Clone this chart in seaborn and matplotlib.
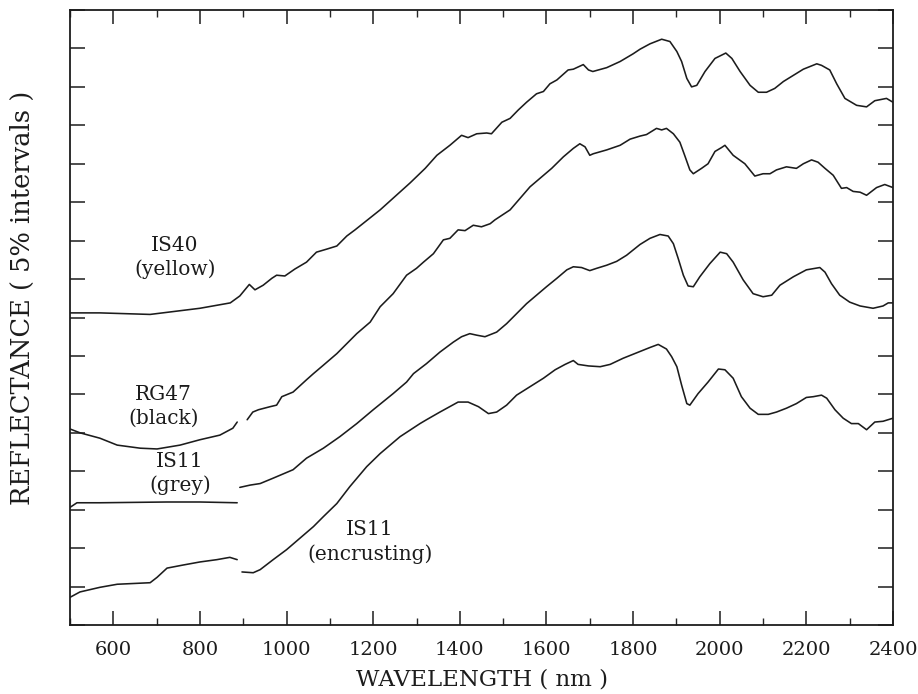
import numpy as np
import pandas as pd
import matplotlib
matplotlib.use("Agg")
import matplotlib.pyplot as plt
import seaborn as sns

# ---- data (wavelength nm, reflectance %, curves offset for display) ----
is40_wl = [500, 569, 685, 800, 870, 892, 914, 927, 946, 966, 977, 996, 1019, 1046, 1069, 1093,
           1116, 1139, 1158, 1216, 1285, 1320, 1347, 1377, 1404, 1419, 1439, 1462, 1473, 1497,
           1516, 1535, 1554, 1577, 1593, 1608, 1624, 1650, 1662, 1685, 1697, 1707, 1739, 1770,
           1800, 1816, 1839, 1866, 1885, 1901, 1912, 1924, 1935, 1947, 1966, 1989, 2014, 2028,
           2047, 2070, 2089, 2108, 2127, 2147, 2170, 2193, 2224, 2235, 2254, 2270, 2289, 2316,
           2339, 2358, 2385, 2400]
is40_r = [40.6, 40.6, 40.4, 41.2, 41.9, 42.8, 44.3, 43.6, 44.2, 45.1, 45.5, 45.4, 46.3, 47.2,
          48.5, 48.9, 49.3, 50.6, 51.4, 54.0, 57.5, 59.4, 61.1, 62.4, 63.7, 63.4, 63.9, 64.0,
          63.9, 65.4, 65.9, 67.0, 68.0, 69.1, 69.4, 70.4, 70.9, 72.2, 72.3, 72.9, 72.2, 72.0,
          72.5, 73.3, 74.3, 74.9, 75.6, 76.2, 75.9, 74.6, 73.3, 71.1, 70.0, 70.2, 72.0, 73.7,
          74.4, 73.7, 72.0, 70.2, 69.3, 69.3, 69.8, 70.7, 71.5, 72.3, 73.0, 72.8, 72.2, 70.4,
          68.5, 67.6, 67.4, 68.2, 68.5, 68.0]

rg47_wl_a = [500, 523, 569, 609, 662, 701, 754, 800, 846, 876, 886]
rg47_r_a = [25.5, 25.0, 24.3, 23.4, 23.0, 22.9, 23.4, 24.1, 24.7, 25.6, 26.4]
rg47_wl_b = [909, 922, 935, 962, 977, 989, 1015, 1046, 1062, 1085, 1116, 1139, 1162, 1193,
             1216, 1246, 1277, 1300, 1316, 1339, 1362, 1377, 1396, 1412, 1431, 1450, 1470, 1481,
             1516, 1562, 1612, 1639, 1662, 1677, 1689, 1700, 1708, 1739, 1770, 1793, 1816, 1831,
             1854, 1866, 1877, 1893, 1908, 1919, 1931, 1939, 1958, 1973, 1989, 2004, 2012, 2031,
             2058, 2081, 2100, 2116, 2131, 2154, 2177, 2193, 2212, 2227, 2243, 2262, 2281, 2293,
             2308, 2324, 2339, 2362, 2381, 2400]
rg47_r_b = [26.7, 27.7, 28.0, 28.4, 28.6, 29.7, 30.3, 31.9, 32.7, 33.8, 35.3, 36.6, 37.9, 39.4,
            41.4, 43.1, 45.5, 46.4, 47.2, 48.3, 50.1, 50.3, 51.4, 51.3, 52.0, 51.8, 52.2, 52.7,
            54.0, 57.0, 59.4, 60.9, 62.0, 62.6, 62.2, 61.1, 61.3, 61.8, 62.4, 63.2, 63.6, 63.8,
            64.6, 64.4, 64.6, 63.9, 62.8, 61.1, 59.2, 58.7, 59.4, 60.0, 61.6, 62.1, 62.4, 61.1,
            60.0, 58.4, 58.7, 58.7, 59.2, 59.6, 59.4, 60.0, 60.5, 60.2, 59.4, 58.5, 56.8, 56.9,
            56.4, 56.3, 55.9, 56.9, 57.3, 56.9]

grey_wl_a = [500, 516, 569, 724, 800, 886]
grey_r_a = [15.3, 15.9, 15.9, 16.0, 16.0, 15.9]
grey_wl_b = [892, 916, 939, 969, 1015, 1046, 1085, 1123, 1162, 1200, 1246, 1277, 1293, 1323,
             1354, 1385, 1404, 1423, 1439, 1458, 1485, 1508, 1531, 1554, 1577, 1600, 1624, 1647,
             1662, 1681, 1700, 1716, 1739, 1762, 1785, 1816, 1839, 1862, 1881, 1893, 1904, 1916,
             1927, 1939, 1954, 1977, 2001, 2016, 2031, 2054, 2077, 2100, 2120, 2139, 2170, 2200,
             2231, 2243, 2258, 2277, 2300, 2324, 2354, 2377, 2389, 2400]
grey_r_b = [17.9, 18.2, 18.4, 19.1, 20.2, 21.7, 23.0, 24.5, 26.2, 28.0, 30.1, 31.6, 32.7, 34.0,
            35.5, 36.8, 37.5, 37.9, 37.7, 37.5, 38.1, 39.2, 40.5, 41.8, 42.9, 44.0, 45.1, 46.2,
            46.6, 46.5, 46.1, 46.4, 46.8, 47.3, 48.1, 49.5, 50.3, 50.8, 50.6, 49.6, 47.7, 45.5,
            44.1, 44.0, 45.3, 47.0, 48.5, 48.3, 47.2, 44.9, 43.1, 42.7, 42.9, 44.2, 45.3, 46.2,
            46.5, 45.9, 44.4, 42.9, 42.0, 41.5, 41.2, 41.5, 41.9, 41.9]

enc_wl_a = [500, 523, 569, 609, 685, 701, 724, 761, 800, 839, 869, 886]
enc_r_a = [3.6, 4.3, 4.9, 5.3, 5.5, 6.2, 7.4, 7.8, 8.2, 8.5, 8.8, 8.5]
enc_wl_b = [897, 923, 939, 969, 1000, 1031, 1062, 1085, 1116, 1146, 1185, 1216, 1262, 1308,
            1323, 1354, 1396, 1419, 1443, 1466, 1485, 1508, 1531, 1562, 1593, 1620, 1643, 1662,
            1673, 1697, 1724, 1747, 1777, 1808, 1839, 1858, 1877, 1889, 1901, 1912, 1924, 1931,
            1950, 1973, 1997, 2012, 2031, 2050, 2070, 2089, 2112, 2131, 2154, 2177, 2200, 2216,
            2235, 2247, 2266, 2285, 2304, 2320, 2339, 2358, 2377, 2400]
enc_r_b = [6.9, 6.8, 7.2, 8.5, 9.8, 11.3, 12.8, 14.1, 15.8, 18.0, 20.6, 22.3, 24.5, 26.2,
           26.7, 27.7, 29.0, 29.0, 28.4, 27.5, 27.7, 28.6, 29.9, 31.0, 32.1, 33.2, 33.9, 34.4,
           33.9, 33.7, 33.6, 33.9, 34.7, 35.4, 36.1, 36.5, 35.9, 34.9, 33.6, 31.2, 28.8, 28.6,
           30.1, 31.6, 33.3, 33.2, 32.1, 29.7, 28.2, 27.4, 27.4, 27.7, 28.2, 28.8, 29.6, 29.7,
           29.9, 29.5, 28.0, 26.9, 26.2, 26.2, 25.4, 26.4, 26.5, 26.9]

labels = ["IS40\n(yellow)", "RG47\n(black)", "IS11\n(grey)", "IS11\n(encrusting)"]
label_wl = [742, 715, 754, 1193]
label_r = [47.8, 28.4, 19.7, 10.8]

x_ticks = [600, 800, 1000, 1200, 1400, 1600, 1800, 2000, 2200, 2400]

segments = [
    ("IS40", 0, is40_wl, is40_r),
    ("RG47", 1, rg47_wl_a, rg47_r_a), ("RG47", 2, rg47_wl_b, rg47_r_b),
    ("grey", 3, grey_wl_a, grey_r_a), ("grey", 4, grey_wl_b, grey_r_b),
    ("enc", 5, enc_wl_a, enc_r_a), ("enc", 6, enc_wl_b, enc_r_b),
]
rows = []
for name, seg, wl, r in segments:
    assert len(wl) == len(r), (name, seg, len(wl), len(r))
    for w, v in zip(wl, r):
        rows.append({"sample": name, "segment": seg, "wavelength": w, "reflectance": v})
df = pd.DataFrame(rows)

sns.set_theme(style="ticks")
plt.rcParams["font.family"] = ["DejaVu Serif"]

ink = "#1c1c1c"
fig = plt.figure(figsize=(9.18, 6.94), dpi=100)
ax = fig.add_axes([70 / 918, 69 / 694, 823 / 918, 615 / 694])

sns.lineplot(data=df, x="wavelength", y="reflectance", units="segment",
             estimator=None, color=ink, lw=1.15, sort=False, ax=ax, legend=False)

for t, w, r in zip(labels, label_wl, label_r):
    ax.text(w, r, t, ha="center", va="center", fontsize=14.5, color=ink,
            linespacing=1.3, multialignment="center")

ax.set_xlim(500, 2400)
ax.set_ylim(0, 80)
ax.set_xticks(x_ticks)
ax.set_xticks(np.arange(500, 2401, 100), minor=True)
ax.set_yticks(np.arange(0, 81, 5))
ax.set_yticklabels([])
ax.tick_params(axis="x", which="major", direction="in", length=10, width=1.1,
               top=True, bottom=True, labelsize=14, colors=ink, pad=11.5)
ax.tick_params(axis="x", which="minor", direction="in", length=5, width=1.0,
               top=True, bottom=True)
ax.tick_params(axis="y", which="major", direction="in", length=11, width=1.1,
               left=True, right=True, colors=ink)
for s in ax.spines.values():
    s.set_visible(True)
    s.set_linewidth(1.3)
    s.set_color(ink)

ax.set_xlabel("WAVELENGTH ( nm )", fontsize=16.5, color=ink, labelpad=7)
ax.set_ylabel("REFLECTANCE ( 5% intervals )", fontsize=18.5, color=ink)
ax.yaxis.set_label_coords(-0.043, 0.532)

fig.savefig("out.png", dpi=100, facecolor="white")
